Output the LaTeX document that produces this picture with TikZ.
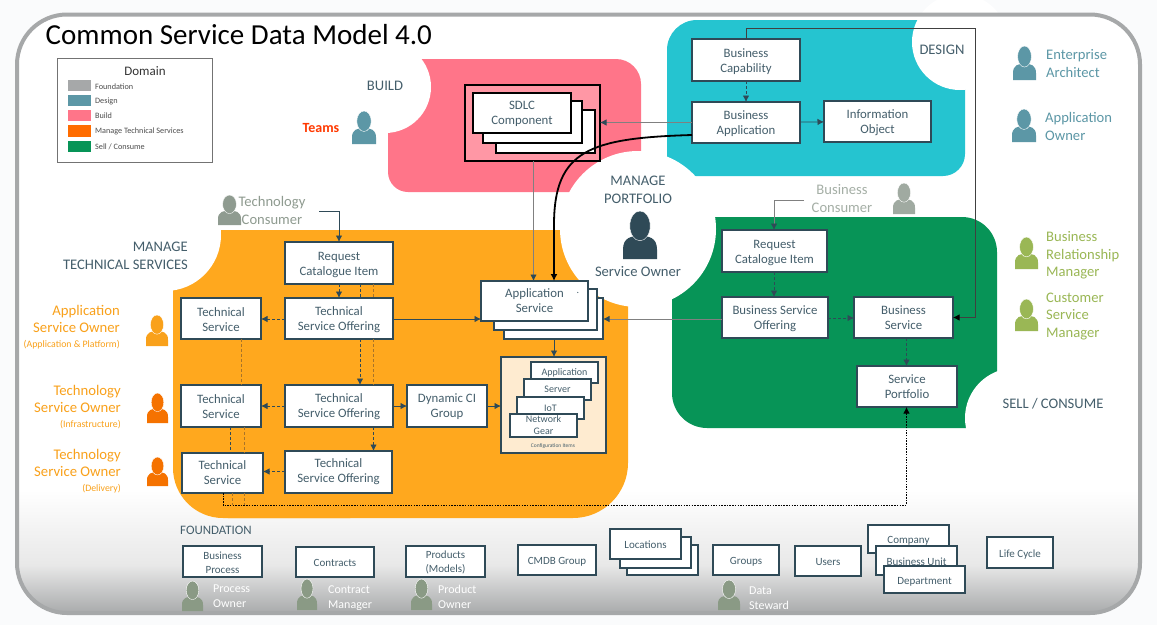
\documentclass[tikz,border=0pt]{standalone}
\usepackage{fontspec}
\setmainfont{Carlito}
\usetikzlibrary{arrows.meta}
\definecolor{ink}{HTML}{2F4A57}
\definecolor{txt}{HTML}{445E6B}
\definecolor{pagebg}{HTML}{FAFBFC}
\definecolor{framegray}{HTML}{A6A8A9}
\definecolor{pinkb}{HTML}{FF7589}
\definecolor{pinkl}{HTML}{FF97A5}
\definecolor{tealb}{HTML}{25C4D0}
\definecolor{orangeb}{HTML}{FFA81E}
\definecolor{greenb}{HTML}{079457}
\definecolor{cream}{HTML}{FEEBD0}
\definecolor{persteal}{HTML}{5C97A6}
\definecolor{persgray}{HTML}{8F9B90}
\definecolor{persfound}{HTML}{8A9A85}
\definecolor{perslime}{HTML}{9AB755}
\definecolor{persorange}{HTML}{F9A11B}
\definecolor{persdeep}{HTML}{F57200}
\definecolor{brown}{HTML}{A8742A}
\tikzset{
  boxst/.style={draw=ink,line width=1.2pt,fill=white,inner sep=0pt,outer sep=0pt,align=center,text=txt,font=\fontsize{12.8}{15}\selectfont},
  blackbox/.style={boxst,draw=black},
  smallbox/.style={boxst,font=\fontsize{11}{13.5}\selectfont},
  cibox/.style={boxst,font=\fontsize{10}{12}\selectfont},
  lab/.style={inner sep=0pt,text=txt,font=\fontsize{14.6}{18}\selectfont,align=center},
  persl/.style={inner sep=0pt,font=\fontsize{14.6}{17.5}\selectfont,align=left,anchor=west},
  ownerl/.style={inner sep=0pt,font=\fontsize{14.7}{17}\selectfont,align=right,anchor=east,text=persorange},
  whitel/.style={inner sep=0pt,font=\fontsize{12}{15}\selectfont,align=left,anchor=west,text=white},
  legl/.style={inner sep=0pt,anchor=west,text=black!70,font=\fontsize{8.2}{9}\selectfont},
  arr/.style={draw=ink,line width=.8pt,-{Latex[length=6.5pt,width=6.5pt]}},
  dasharr/.style={arr,dash pattern=on 3pt off 2pt},
  dashline/.style={draw=ink,line width=.8pt,dash pattern=on 3pt off 2pt},
  brownline/.style={draw=brown,line width=.8pt,dash pattern=on 3pt off 2pt},
}
\def\tshift{1}
\newcommand\bx[7][boxst]{%
  \pgfmathsetmacro\bw{#5-#3}\pgfmathsetmacro\bh{#6-#4}%
  \pgfmathsetmacro\bcx{(#3+#5)/2}\pgfmathsetmacro\bcy{(#4+#6)/2}%
  \pgfmathsetmacro\tcy{\bcy+\tshift}%
  \node[#1,minimum width=\bw pt,minimum height=\bh pt] (#2) at (\bcx,\bcy) {};
  \node[#1,draw=none,fill=none] (#2-text) at (\bcx,\tcy) {#7};}
\newcommand\person[5]{%
  \pgfmathsetmacro\pw{#3-#1}\pgfmathsetmacro\ph{#4-#2}%
  \begin{scope}[shift={(#1,#2)},x=\pw pt,y=-\ph pt]
    \fill[#5] (0,1) -- (0,.8) .. controls (0,.55) and (.25,.52) .. (.5,.52)
      .. controls (.75,.52) and (1,.55) .. (1,.8) -- (1,1) -- cycle;
    \fill[#5,draw=white,line width=.4pt] (.5,.31) ellipse [x radius=.3,y radius=.31];
  \end{scope}}
\begin{document}
\begin{tikzpicture}[x=1pt,y=-1pt]
\useasboundingbox (0,0) rectangle (1157,625);
\fill[pagebg] (0,0) rectangle (1157,625);
% interior with fading foundation band
\fill[white,rounded corners=50pt] (17,14.5) rectangle (1140,613);
\begin{scope}
  \clip[rounded corners=50pt] (17,14.5) rectangle (1140,614);
  \shade[top color=white,bottom color=black!9] (15,490) rectangle (1142,565);
  \shade[top color=black!9,bottom color=framegray] (15,565) rectangle (1142,615);
\end{scope}
% domains
\fill[pinkb] (388,59) [rounded corners=25pt] -- (641,59) [sharp corners] -- (641,192) [rounded corners=20pt] -- (388,192) [sharp corners] -- cycle;
\fill[tealb] (965,20) [rounded corners=30pt] -- (667,20) [sharp corners] -- (667,176) [rounded corners=22pt] -- (965,176) [sharp corners] -- cycle;
\fill[orangeb] (173,230) -- (628,230) [rounded corners=55pt] -- (628,518) -- (173,518) [sharp corners] -- cycle;
\fill[orangeb,rounded corners=50pt] (173,400) -- (173,518) -- (400,518) [sharp corners] -- cycle;
\fill[greenb] (672,217) [rounded corners=35pt] -- (997,217) [sharp corners] -- (997,428) [rounded corners=35pt] -- (672,428) [sharp corners] -- cycle;
% notches
\fill[white] (385,87) circle (46);
\fill[white] (960,42) circle (48);
\fill[white] (165,235) circle (56);
\fill[white] (638,229) circle (78);
\fill[white] (1015,418) circle (50);
% frame
\draw[framegray,line width=4pt,rounded corners=50pt] (17,14.5) rectangle (1140,613);
% title and legend
\node[anchor=base west,inner sep=0pt,font=\fontsize{29}{32}\selectfont] (title) at (45.5,44) {Common Service Data Model 4.0};
\node[draw=black!55,line width=1pt,fill=white,minimum width=155pt,minimum height=104pt,inner sep=0pt] (legend) at (134.5,110) {};
\node[inner sep=0pt,font=\fontsize{13}{15}\selectfont,text=black!80] (legtitle) at (145,71) {Domain};
\fill[framegray] (68,80) rectangle (91,91);
\fill[persteal] (68,95) rectangle (91,106);
\fill[pinkb] (68,110) rectangle (91,121);
\fill[orange!85!red] (68,125) rectangle (91,137);
\fill[greenb] (68,141) rectangle (91,152);
\node[legl] (l1) at (95,86.5) {Foundation};
\node[legl] (l2) at (95,101) {Design};
\node[legl] (l3) at (95,116) {Build};
\node[legl] (l4) at (95,131) {Manage Technical Services};
\node[legl] (l5) at (95,146.5) {Sell / Consume};
% region labels
\node[lab] (tbuild) at (385,86) {BUILD};
\node[lab] (tdesign) at (942,50) {DESIGN};
\node[lab,align=right,anchor=east] (tmts) at (188,256) {MANAGE\\TECHNICAL SERVICES};
\node[lab] (tmp) at (638,190) {MANAGE\\PORTFOLIO};
\node[lab] (tso) at (638,272) {Service Owner};
\node[lab] (tsell) at (1053,404) {SELL / CONSUME};
\node[lab,anchor=west] (tfound) at (180,530) {\fontsize{12.9}{14}\selectfont FOUNDATION};
% people
\person{352}{111}{376}{144}{persteal}
\person{218}{195}{241}{225}{persgray}
\person{1013}{46}{1036}{80}{persteal}
\person{1012}{109}{1036}{142}{persteal}
\person{623}{211}{657}{259}{ink}
\person{893}{183}{915}{214}{persgray!85!white}
\person{1015}{237}{1038}{269}{perslime}
\person{1015}{299}{1038}{331}{perslime}
\person{146}{315}{168}{346}{persorange}
\person{147}{393}{168}{423}{persdeep}
\person{147}{457}{168}{486}{persdeep}
\person{182}{581}{203}{611}{persfound}
\person{297}{579}{317}{610}{persfound}
\person{411}{579}{432}{610}{persfound}
\person{718}{580}{740}{610}{persfound}
\node[inner sep=0pt,font=\bfseries\fontsize{14}{16}\selectfont,text=red!55!orange] (tteams) at (321,128) {Teams};
\node[lab,text=persgray] (ttc) at (272,210) {Technology\\Consumer};
\node[lab,text=persgray!80!white] (tbc) at (842,198.5) {Business\\Consumer};
\node[persl,text=persteal] (tea) at (1046,63.5) {Enterprise\\Architect};
\node[persl,text=persteal] (tao) at (1045,126.5) {Application\\Owner};
\node[persl,text=perslime] (tbrm) at (1046,255.5) {Business\\Relationship\\Manager};
\node[persl,text=perslime] (tcsm) at (1046,316.5) {Customer\\Service\\Manager};
\node[ownerl] (tos1) at (120,327.5) {Application\\Service Owner\\[-2pt]{\fontsize{9.8}{10}\selectfont (Application \& Platform)}};
\node[ownerl] (tos2) at (121,407.5) {Technology\\Service Owner\\[-2pt]{\fontsize{9.8}{10}\selectfont (Infrastructure)}};
\node[ownerl] (tos3) at (121,471.5) {Technology\\Service Owner\\[-2pt]{\fontsize{9.8}{10}\selectfont (Delivery)}};
\node[whitel] (tp1) at (213,596.5) {Process\\Owner};
\node[whitel] (tp2) at (328,598.5) {Contract\\Manager};
\node[whitel] (tp3) at (438,596.5) {Product\\Owner};
\node[whitel] (tp4) at (749,598.5) {Data\\Steward};
% design
\def\tshift{2}
\bx{bcap}{692}{39}{800}{81}{Business\\Capability}
\def\tshift{1}
\bx{bapp}{692}{102}{800}{143}{Business\\Application}
\bx{iobj}{824}{101}{931}{142}{Information\\Object}
% build
\bx[blackbox,fill=pinkl]{sdlc}{465}{85}{600}{161}{}
\bx[blackbox]{sdlcc}{496}{110}{595}{153}{}
\bx[blackbox]{sdlcb}{483}{101}{582}{143}{}
\bx[blackbox]{sdlca}{473}{93}{571}{133}{SDLC\\Component}
% technical services
\def\tshift{2}
\bx{trci}{285}{242}{393}{284}{Request\\Catalogue Item}
\def\tshift{1}
\bx{tso1}{285}{298}{393}{339}{Technical\\Service Offering}
\bx{ts1}{181}{298}{261}{339}{Technical\\Service}
\bx{tso2}{285}{385}{393}{427}{Technical\\Service Offering}
\bx{ts2}{181}{385}{261}{427}{Technical\\Service}
\bx{dci}{407}{385}{487}{427}{Dynamic CI\\Group}
\def\tshift{0}
\bx{ts3}{182}{453}{263}{493}{Technical\\Service}
\bx{tso3}{285}{451}{392}{493}{Technical\\Service Offering}
\bx{apc}{504}{298}{603}{339}{}
\bx{apb}{494}{289}{597}{330}{}
\bx{apa}{481}{281}{588}{321}{Application\\Service}
\node[inner sep=0pt,text=txt,font=\fontsize{10}{10}\selectfont] (apdot) at (578,293) {.};
\bx[boxst,fill=cream]{cis}{501}{357}{606}{453}{}
\bx[cibox]{ci1}{531}{362}{598}{383}{Application}
\bx[cibox]{ci2}{524}{379}{591}{400}{Server}
\bx[cibox]{ci3}{517}{397}{584}{419}{IoT}
\bx[cibox]{ci4}{510}{414}{577}{437}{Network\\Gear}
\node[inner sep=0pt,text=txt,font=\fontsize{5.5}{6}\selectfont] (cilabel) at (553,446) {Configuration Items};
% sell / consume
\def\tshift{2}
\bx{brci}{722}{230}{827}{272}{Request\\Catalogue Item}
\def\tshift{1}
\bx{bso}{722}{297}{828}{338}{Business Service\\Offering}
\def\tshift{0}
\bx{bs}{854}{297}{953}{338}{Business\\Service}
\bx{sp}{857}{366}{957}{407}{Service\\Portfolio}
% foundation
\def\tshift{1}
\bx[smallbox]{fbp}{183}{546}{262}{577}{Business\\Process}
\bx[smallbox]{fcon}{296}{547}{374}{577}{Contracts}
\bx[smallbox]{fprod}{406}{546}{485}{577}{Products\\(Models)}
\def\tshift{2}
\bx[smallbox]{fcmdb}{518}{545}{596}{575}{CMDB Group}
\def\tshift{1}
\bx[smallbox]{floc3}{627}{545}{698}{575}{}
\bx[smallbox]{floc2}{620}{537}{691}{568}{}
\bx[smallbox]{floc1}{610}{529}{681}{559}{Locations}
\def\tshift{2}
\bx[smallbox]{fgrp}{713}{545}{779}{575}{Groups}
\def\tshift{1}
\bx[smallbox]{fusr}{795}{546}{861}{576}{Users}
\def\tshift{2}
\bx[smallbox]{fcomp}{868}{525}{949}{553}{Company}
\def\tshift{1}
\bx[smallbox]{fbu}{876}{546}{957}{575}{Business Unit}
\def\tshift{2}
\bx[smallbox]{fdep}{884}{566}{965}{593}{Department}
\bx[smallbox]{flc}{987}{537}{1053}{568}{Life Cycle}
% helper positions for connectors
\coordinate (xa) at (360,0);
\coordinate (xb) at (373.5,0);
\coordinate (xc) at (241.5,0);
\coordinate (xd) at (230,0);
\coordinate (xe) at (244,0);
\coordinate (xf) at (223,0);
\coordinate (xg) at (232,0);
\coordinate (xh) at (533.5,0);
\coordinate (xi) at (554,0);
\coordinate (xj) at (339,0);
\coordinate (xk) at (774,0);
\coordinate (xl) at (906.5,0);
\coordinate (xm) at (975.5,0);
\coordinate (yr) at (0,319);
\coordinate (ya) at (0,406);
\coordinate (yb) at (0,471.5);
\coordinate (yc) at (0,318);
\coordinate (yd) at (0,122.5);
\coordinate (ye) at (0,135);
\coordinate (yf) at (0,505);
\coordinate (yg) at (0,28);
\coordinate (tcend) at (319,211);
\coordinate (bcend) at (804,200.5);
% design connectors
\draw[dasharr] (bcap) -- (bapp);
\draw[arr] (bapp) -- (iobj);
\draw[arr,draw=gray,{-{Latex[length=6.5pt,width=6.5pt,ink]}}] (bapp.west |- yd) -- (sdlc.east |- yd);
\draw[arr,draw=black!75,{-{Latex[length=6.5pt,width=6.5pt,black]}}] (bcap.north) -- (bcap.north |- yg) -- (xm |- yg) -- (xm |- bs.east) -- (bs.east);
% application service inputs
\draw[arr,draw=gray,{-{Latex[length=6.5pt,width=6.5pt,ink]}}] (sdlc.south -| xh) -- (apa.north -| xh);
\draw[black,line width=1.8pt,-{Latex[length=7pt,width=7pt]}] (bapp.west |- ye) .. controls (590,138) and (554,150) .. (554,225) -- (apa.north -| xi);
% technical connectors
\draw[arr] (tcend) -| (trci.north -| xj);
\draw[dasharr] (trci.south -| xj) -- (tso1.north -| xj);
\draw[dashline] (trci.south -| xa) -- (tso1.north -| xa);
\draw[brownline] (trci.south -| xb) -- (tso1.north -| xb);
\draw[dasharr] (tso1.south -| xa) -- (tso2.north -| xa);
\draw[brownline] (tso1.south -| xb) -- (tso2.north -| xb);
\draw[dasharr] (tso2.south -| xb) -- (tso3.north -| xb);
\draw[dasharr] (tso1.west |- yr) -- (ts1.east |- yr);
\draw[dasharr] (tso2.west |- ya) -- (ts2.east |- ya);
\draw[dasharr] (tso3.west |- yb) -- (ts3.east |- yb);
\draw[arr] (tso1.east |- yr) -- (apa.west |- yr);
\draw[arr] (tso2.east |- ya) -- (dci.west |- ya);
\draw[arr] (dci.east |- ya) -- (cis.west |- ya);
\draw[arr] (apc.south -| xi) -- (cis.north -| xi);
\draw[arr,draw=gray,{-{Latex[length=6.5pt,width=6.5pt,ink]}}] (bso.west |- yr) -- (apc.east |- yr);
\draw[brownline] (ts1.south -| xc) -- (ts2.north -| xc);
\draw[dashline] (ts2.south -| xd) -- (ts3.north -| xd);
\draw[brownline] (ts2.south -| xe) -- (ts3.north -| xe);
\draw[brownline] (ts3.south -| xg) -- (xg |- yf);
\draw[brownline] (ts3.south -| xe) -- (xe |- yf);
% sell connectors
\draw[arr,draw=gray,{-{Latex[length=6.5pt,width=6.5pt,ink]}}] (bcend) -| (brci.north -| xk);
\draw[dasharr] (brci.south -| xk) -- (bso.north -| xk);
\draw[dasharr] (bso.east |- yc) -- (bs.west |- yc);
\draw[dasharr] (bs.south -| xl) -- (sp.north -| xl);
% dotted link to portfolio
\draw[black,line width=.8pt,dash pattern=on 1.5pt off 1.2pt,-{Latex[length=6.5pt,width=6.5pt]}] (ts3.south -| xf) -- (xf |- yf) -- (xl |- yf) -- (sp.south -| xl);
\end{tikzpicture}
\end{document}
